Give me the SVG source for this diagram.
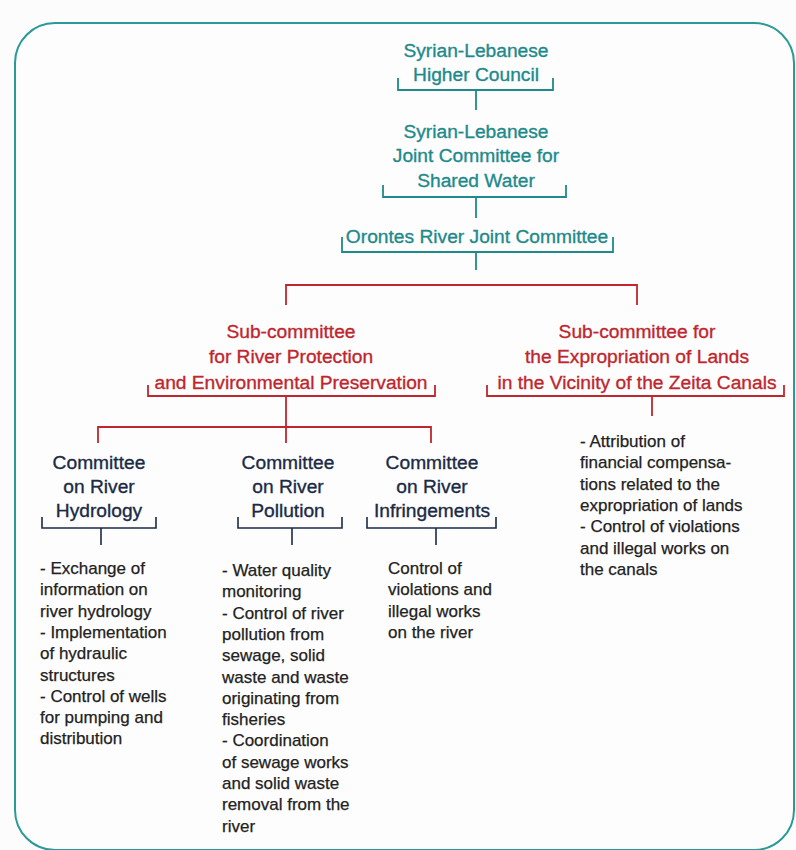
<svg xmlns="http://www.w3.org/2000/svg" width="796" height="850" viewBox="0 0 796 850">
<style>
.t{font-family:"Liberation Sans",Arial,sans-serif;font-size:19.2px;text-anchor:middle;stroke-width:0.35}
.teal{fill:#1e8a8c;stroke:#1e8a8c}
.red{fill:#c0262d;stroke:#c0262d}
.navy{fill:#1b2a45;stroke:#1b2a45}
.d{font-family:"Liberation Sans",Arial,sans-serif;font-size:17px;fill:#222;stroke:#222;stroke-width:0.25}
.lt{fill:none;stroke:#1e8a8c;stroke-width:1.8}
.lr{fill:none;stroke:#c0262d;stroke-width:1.8}
.ln{fill:none;stroke:#1b2a45;stroke-width:1.6}
</style>
<rect x="0" y="0" width="796" height="850" fill="#fcfcfc"/>
<rect x="15" y="23" width="779" height="827" rx="40" ry="40" fill="#fdfdfd" stroke="#2a9a98" stroke-width="2"/>
<g id="connectors">
<path class="lt" d="M398 78V90H553V78M476 90V110"/>
<path class="lt" d="M383 185V197H566V185M476 197V218"/>
<path class="lt" d="M342 237V252H613V237M476 252V270"/>
<path class="lr" d="M286 305V285H637V305"/>
<path class="lr" d="M148 385V396H435V385M286 396V427"/>
<path class="lr" d="M487 385V396H784V385M652 396V416"/>
<path class="lr" d="M98 443V427H431V443M286 427V443"/>
<path class="ln" d="M42 517V528H156V517M101 528V545"/>
<path class="ln" d="M238 517V528H342V517M292 528V545"/>
<path class="ln" d="M367 517V528H496V517M436 528V545"/>
</g>
<g id="higher-council"><text class="t teal" x="476" y="57">Syrian-Lebanese</text><text class="t teal" x="476" y="81">Higher Council</text></g>
<g id="joint-committee-shared-water"><text class="t teal" x="476" y="138">Syrian-Lebanese</text><text class="t teal" x="476" y="162">Joint Committee for</text><text class="t teal" x="476" y="187">Shared Water</text></g>
<g id="orontes"><text class="t teal" x="477" y="243">Orontes River Joint Committee</text></g>
<g id="sub-protection"><text class="t red" x="291" y="338">Sub-committee</text><text class="t red" x="291" y="363">for River Protection</text><text class="t red" x="291" y="389">and Environmental Preservation</text></g>
<g id="sub-expropriation"><text class="t red" x="637" y="338">Sub-committee for</text><text class="t red" x="637" y="363">the Expropriation of Lands</text><text class="t red" x="637" y="389">in the Vicinity of the Zeita Canals</text></g>
<g id="hydrology"><text class="t navy" x="99" y="469">Committee</text><text class="t navy" x="99" y="493">on River</text><text class="t navy" x="99" y="517">Hydrology</text></g>
<g id="pollution"><text class="t navy" x="288" y="469">Committee</text><text class="t navy" x="288" y="493">on River</text><text class="t navy" x="288" y="517">Pollution</text></g>
<g id="infringements"><text class="t navy" x="432" y="469">Committee</text><text class="t navy" x="432" y="493">on River</text><text class="t navy" x="432" y="517">Infringements</text></g>
<g id="hydrology-tasks"><text class="d" x="40" y="574">- Exchange of</text><text class="d" x="40" y="595.3">information on</text><text class="d" x="40" y="616.6">river hydrology</text><text class="d" x="40" y="637.9">- Implementation</text><text class="d" x="40" y="659.2">of hydraulic</text><text class="d" x="40" y="680.5">structures</text><text class="d" x="40" y="701.8">- Control of wells</text><text class="d" x="40" y="723.1">for pumping and</text><text class="d" x="40" y="744.4">distribution</text></g>
<g id="pollution-tasks"><text class="d" x="222" y="576">- Water quality</text><text class="d" x="222" y="597.3">monitoring</text><text class="d" x="222" y="618.6">- Control of river</text><text class="d" x="222" y="639.9">pollution from</text><text class="d" x="222" y="661.2">sewage, solid</text><text class="d" x="222" y="682.5">waste and waste</text><text class="d" x="222" y="703.8">originating from</text><text class="d" x="222" y="725.1">fisheries</text><text class="d" x="222" y="746.4">- Coordination</text><text class="d" x="222" y="767.7">of sewage works</text><text class="d" x="222" y="789">and solid waste</text><text class="d" x="222" y="810.3">removal from the</text><text class="d" x="222" y="831.6">river</text></g>
<g id="infringements-tasks"><text class="d" x="388" y="574">Control of</text><text class="d" x="388" y="595.3">violations and</text><text class="d" x="388" y="616.6">illegal works</text><text class="d" x="388" y="637.9">on the river</text></g>
<g id="expropriation-tasks"><text class="d" x="580" y="447">- Attribution of</text><text class="d" x="580" y="468.3">financial compensa-</text><text class="d" x="580" y="489.6">tions related to the</text><text class="d" x="580" y="510.9">expropriation of lands</text><text class="d" x="580" y="532.2">- Control of violations</text><text class="d" x="580" y="553.5">and illegal works on</text><text class="d" x="580" y="574.8">the canals</text></g>
</svg>
